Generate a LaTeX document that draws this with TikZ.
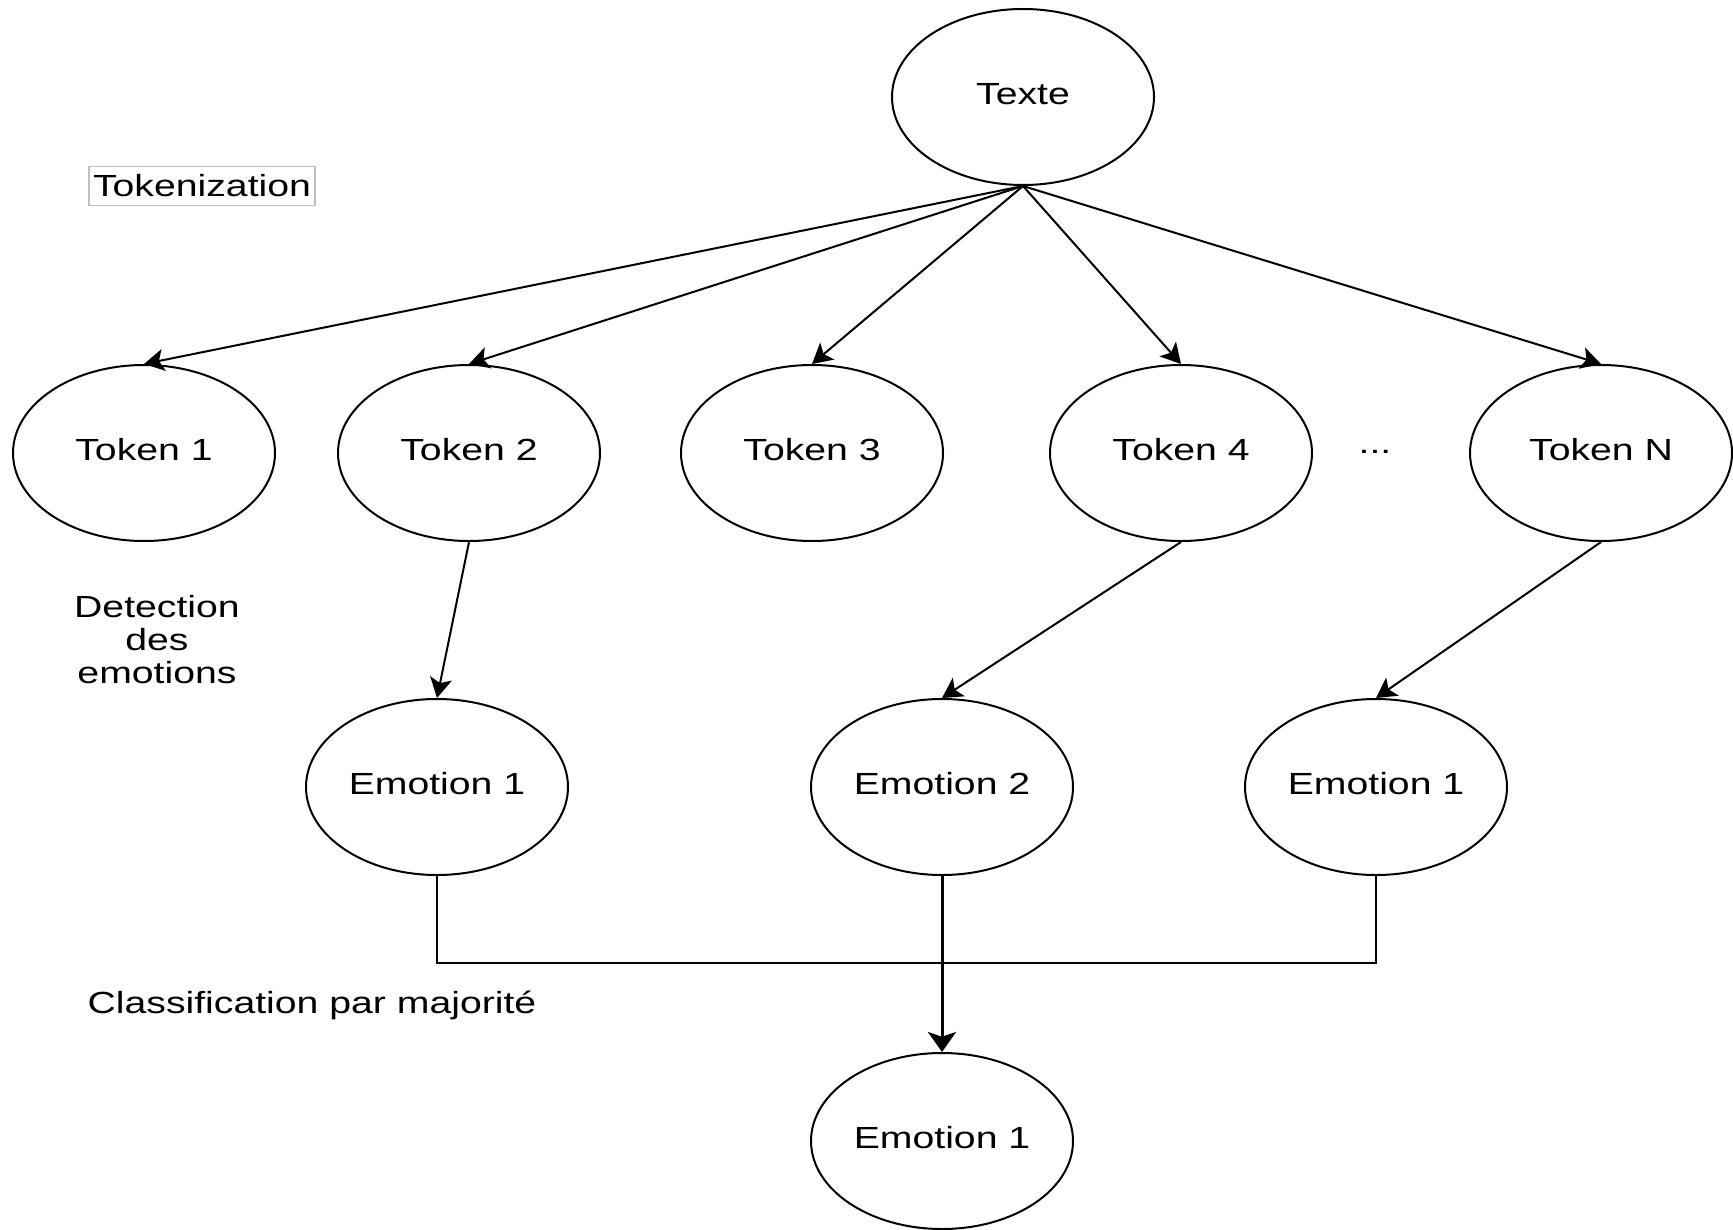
\documentclass[tikz,border=0pt]{standalone}
\usepackage{fontspec}
\setmainfont{Liberation Sans}
\usetikzlibrary{arrows.meta,shapes.geometric}
\newcommand{\sqz}[1]{\raisebox{1.6pt}{\scalebox{1}[0.78]{#1}}}
\begin{document}
\begin{tikzpicture}[x=0.25pt,y=-0.25pt,
  every node/.style={font=\fontsize{9.8pt}{12pt}\selectfont},
  oval/.style={draw, line width=0.5pt, ellipse, minimum width=65.5pt, minimum height=44pt, inner sep=0pt},
  arr/.style={-{Stealth[length=5pt,width=5.5pt,inset=1.2pt]}, line width=0.5pt},
  bigarr/.style={-{Stealth[length=5pt,width=7pt,inset=1.2pt]}, line width=0.75pt},
  conn/.style={line width=0.5pt},
  lbl/.style={align=center, inner sep=0pt}]
\useasboundingbox (0,0) rectangle (1733,1230);
\node[oval] (texte) at (1023,97) {\sqz{Texte}};
\node[oval] (t1) at (144,453) {\sqz{Token 1}};
\node[oval] (t2) at (469,453) {\sqz{Token 2}};
\node[oval] (t3) at (812,453) {\sqz{Token 3}};
\node[oval] (t4) at (1181,453) {\sqz{Token 4}};
\node[lbl] (dots) at (1375,455) {\sqz{...}};
\node[oval] (tn) at (1601,453) {\sqz{Token N}};
\node[oval] (e1) at (437,787) {\sqz{Emotion 1}};
\node[oval] (e2) at (942,787) {\sqz{Emotion 2}};
\node[oval] (e3) at (1376,787) {\sqz{Emotion 1}};
\node[oval] (fin) at (942,1141) {\sqz{Emotion 1}};
\node[draw=black!25, line width=0.3pt, inner xsep=1pt, inner ysep=2pt] (tok) at (202,186) {\scalebox{1}[0.78]{Tokenization}};
\node[lbl, font=\fontsize{9.8pt}{8.25pt}\selectfont] (det) at (157,640) {\scalebox{1}[0.78]{Detection}\\\scalebox{1}[0.78]{des}\\\scalebox{1}[0.78]{emotions}};
\node[lbl] (cls) at (312,1005) {\scalebox{1}[0.78]{Classification par majorité}};
\coordinate (bus) at (942,963);
\draw[arr] (texte.south) -- (t1.north);
\draw[arr] (texte.south) -- (t2.north);
\draw[arr] (texte.south) -- (t3.north);
\draw[arr] (texte.south) -- (t4.north);
\draw[arr] (texte.south) -- (tn.north);
\draw[arr] (t2.south) -- (e1.north);
\draw[arr] (t4.south) -- (e2.north);
\draw[arr] (tn.south) -- (e3.north);
\draw[conn] (e1.south) |- (bus) -| (e3.south);
\draw[bigarr] (e2.south) -- (fin.north);
\end{tikzpicture}
\end{document}
